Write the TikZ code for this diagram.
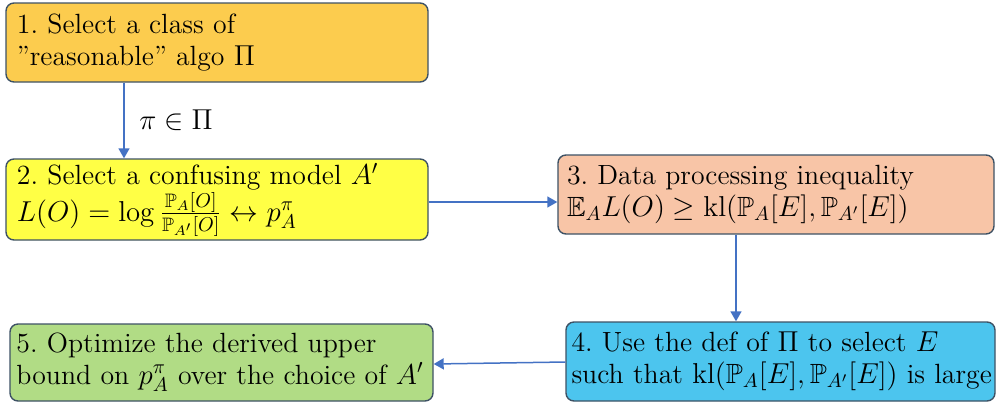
\documentclass[tikz,border=0pt]{standalone}
\usepackage{amsmath,amssymb}
\usetikzlibrary{arrows.meta}
\definecolor{bordc}{HTML}{3E5265}
\definecolor{arrc}{HTML}{4472C4}
\definecolor{c1}{HTML}{FCCC4E}
\definecolor{c2}{HTML}{FFFF45}
\definecolor{c3}{HTML}{F8C5A7}
\definecolor{c4}{HTML}{4CC5EE}
\definecolor{c5}{HTML}{B1DC85}
\tikzset{
  stepbox/.style={draw=bordc, line width=0.7pt, rounded corners=4pt, align=left,
    inner xsep=0pt, inner ysep=0pt, font=\fontsize{13.9}{15.8}\selectfont},
  conn/.style={draw=arrc, line width=0.75pt, -{Triangle[width=5.5pt,length=5pt]}}
}
\begin{document}
\begin{tikzpicture}[x=0.5pt,y=-0.5pt]
\useasboundingbox (0,0) rectangle (996,403);
\node[stepbox, fill=c1, minimum width=211pt, minimum height=39.5pt, text width=200pt] (b1) at (217,42.5)
  {1.\ Select a class of\\''reasonable'' algo $\Pi$};
\node[stepbox, fill=c2, minimum width=211pt, minimum height=40.5pt, text width=200pt] (b2) at (217,199.5)
  {2.\ Select a confusing model $A'$\\$L(O)=\log\frac{\mathbb{P}_A[O]}{\mathbb{P}_{A'}[O]}\leftrightarrow p_A^{\pi}$};
\node[stepbox, fill=c3, minimum width=218pt, minimum height=39.5pt, text width=209pt] (b3) at (776,194.5)
  {3.\ Data processing inequality\\$\mathbb{E}_A L(O)\geq \mathrm{kl}(\mathbb{P}_A[E],\mathbb{P}_{A'}[E])$};
\node[stepbox, fill=c4, minimum width=214.5pt, minimum height=39.5pt, text width=209pt] (b4) at (780.5,361.5)
  {4.\ Use the def of $\Pi$ to select $E$\\\mbox{such that $\mathrm{kl}(\mathbb{P}_A[E],\mathbb{P}_{A'}[E])$ is large}};
\node[stepbox, fill=c5, minimum width=211.5pt, minimum height=38.5pt, text width=205pt] (b5) at (221.5,362.5)
  {5.\ Optimize the derived upper\\bound on $p_A^{\pi}$ over the choice of $A'$};
\draw[conn] (b1.south -| 124,0) -- (b2.north -| 124,0) node[midway, right=4pt, font=\fontsize{13.9}{15}\selectfont] (lab) {$\pi\in\Pi$};
\draw[conn] (b2.east |- 0,202) -- (b3.west |- 0,202);
\draw[conn] (b3.south -| 736,0) -- (b4.north -| 736,0);
\draw[conn] (b4.west |- 0,362) -- (b5.east |- 0,364);
\end{tikzpicture}
\end{document}
